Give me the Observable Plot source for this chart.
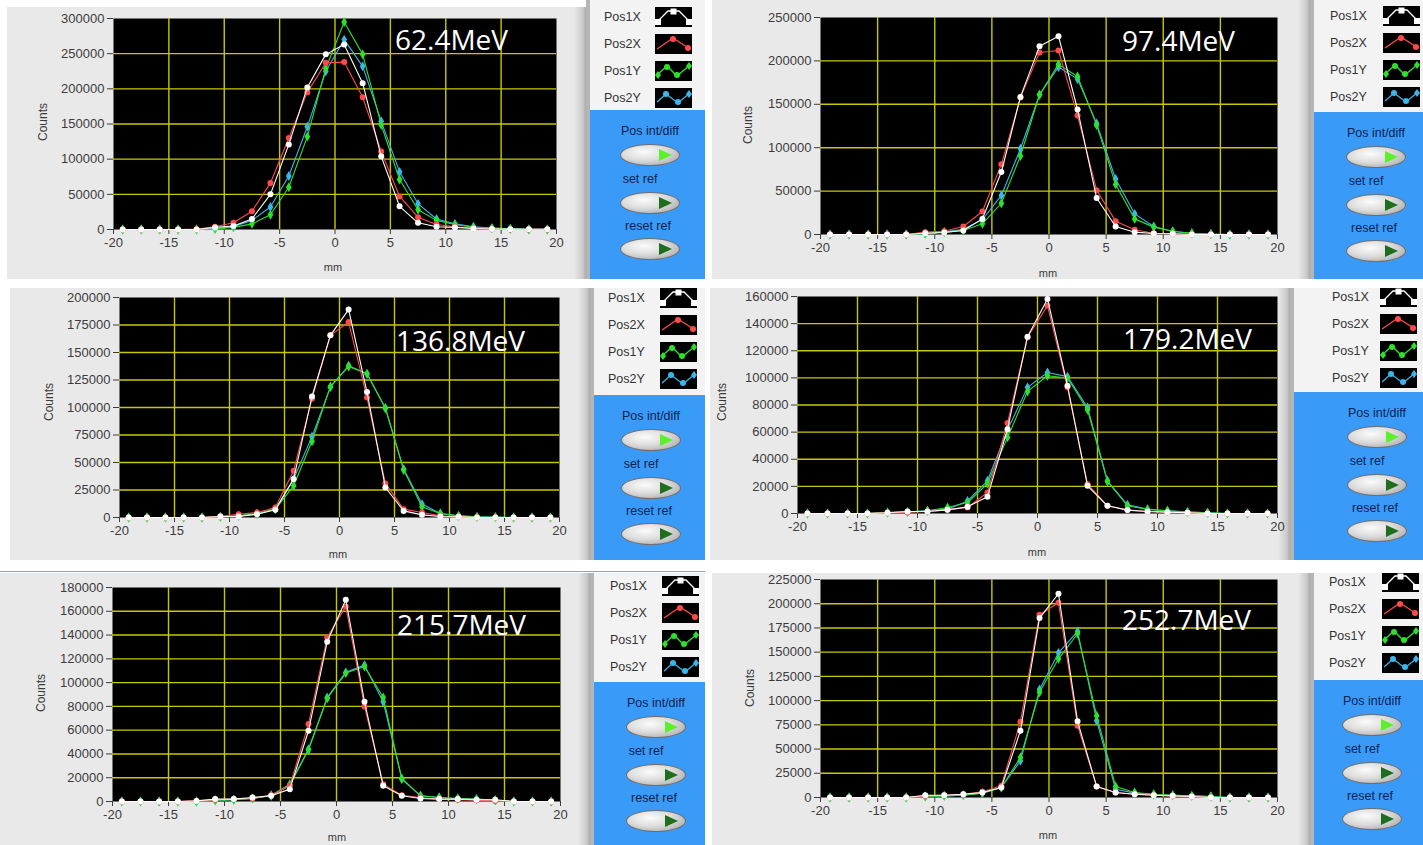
<!DOCTYPE html>
<html>
<head>
<meta charset="utf-8">
<script src="https://cdn.jsdelivr.net/npm/d3@7"></script>
<script src="https://cdn.jsdelivr.net/npm/@observablehq/plot@0.6"></script>
<style>
  html, body { margin: 0; padding: 0; background: #ffffff; }
  body { width: 1423px; height: 845px; position: relative; overflow: hidden; font-family: "Liberation Sans", Arial, sans-serif; }
  .panel { position: absolute; overflow: hidden;
    background: linear-gradient(to right, #e9e9e9 0, #e9e9e9 calc(100% - 12px), #c9c9c9 calc(100% - 3px), #a9a9a9 100%); }
  .panel svg { position: absolute; left: 0; top: 0; }
  .energy { position: absolute; color: #ffffff; font-family: "Open Sans", sans-serif; font-size: 28px; line-height: 1; white-space: nowrap; }
  .counts { position: absolute; font-size: 12px; color: #3a3a3a; transform: translate(-50%, -50%) rotate(-90deg); white-space: nowrap; }
  .mm { position: absolute; font-size: 11px; color: #3a3a3a; transform: translate(-50%, -50%); }
  .legend { position: absolute; overflow: hidden; background: #f3f3f3; border-left: 4px solid #b5b5b5; box-sizing: border-box; }
  .blue { position: absolute; left: 0; right: 0; bottom: 0; background: #3a9af8; }
  .item { position: absolute; font-size: 12.5px; color: #333; transform: translateY(-50%); }
  .swatch { position: absolute; transform: translateY(-50%); }
  .blabel { position: absolute; font-size: 12.5px; color: #0d2350; transform: translate(-50%, -50%); white-space: nowrap; }
  .button { position: absolute; width: 60px; height: 22px; border-radius: 50%; transform: translate(-50%, -50%);
    background: radial-gradient(ellipse at 40% 35%, #fbfbfb 0%, #dcdcdc 45%, #9c9c9c 100%); border: 1px solid #6f6f6f; box-sizing: border-box; }
  .tri { position: absolute; right: 7px; top: 4px; width: 13px; height: 12px; clip-path: polygon(0 0, 100% 50%, 0 100%); }
</style>
</head>
<body>
<script>
// ---------------- data ----------------
const xPositions = [-19.17,-17.5,-15.83,-14.17,-12.5,-10.83,-9.17,-7.5,-5.83,-4.17,-2.5,-0.83,0.83,2.5,4.17,5.83,7.5,9.17,10.83,12.5,14.17,15.83,17.5,19.17];
const xTicks = [-20,-15,-10,-5,0,5,10,15,20];
const seriesNames = ["Pos1X","Pos2X","Pos1Y","Pos2Y"];
const energies = ["62.4MeV","97.4MeV","136.8MeV","179.2MeV","215.7MeV","252.7MeV"];

// 62.4 MeV
const p1_pos1x = [0,0,0,0,0,3000,5000,15000,50000,121000,202000,249000,263000,208000,104000,33000,9500,4000,3000,1500,800,500,500,500];
const p1_pos2x = [0,0,0,0,500,4000,9500,26000,66000,130000,195000,237000,238000,188000,111000,47000,17500,7000,4000,2000,500,0,0,0];
const p1_pos1y = [0,0,0,0,0,1000,3000,8000,21000,60000,132000,229000,295000,249000,149000,71000,28000,13000,7000,3300,2000,1000,0,0];
const p1_pos2y = [0,0,0,0,0,1000,4000,13000,32000,76000,146000,225000,270000,232000,154000,82000,36500,15000,8000,4000,2000,1000,0,0];
const p1_yTicks = [0,50000,100000,150000,200000,250000,300000];

// 97.4 MeV
const p2_pos1x = [0,0,0,0,0,1500,2300,4600,18000,72000,158500,217000,228500,144000,42000,9200,2700,1200,800,0,0,0,0,0];
const p2_pos2x = [0,0,0,0,0,2700,3800,9200,26500,80800,157700,209600,212000,137000,51000,15400,5400,1500,800,0,0,0,0,0];
const p2_pos1y = [0,0,0,0,0,800,2700,4600,12300,36000,90400,161000,196000,182000,126000,57700,18000,8500,3800,1500,500,0,0,0];
const p2_pos2y = [0,0,0,0,0,1200,3000,6100,17000,45000,98800,161000,193000,179000,128000,64000,23800,9200,3500,1500,500,0,0,0];
const p2_yTicks = [0,50000,100000,150000,200000,250000];

// 136.8 MeV
const p3_pos1x = [0,0,0,0,0,900,900,3000,7000,35000,110000,165600,189000,114000,27300,6000,2400,900,600,0,0,0,0,0];
const p3_pos2x = [0,0,0,0,0,1200,3000,4500,9000,42500,108000,165600,177700,109000,31000,7600,4500,1500,600,0,0,0,0,0];
const p3_pos1y = [0,0,0,0,0,600,1500,3600,7600,28900,69300,119000,137300,130600,99300,43100,9700,3600,1500,600,300,0,0,0];
const p3_pos2y = [0,0,0,0,0,600,1500,3000,7600,35000,73500,118500,138000,130600,99600,44000,12200,3600,1500,600,300,0,0,0];
const p3_yTicks = [0,25000,50000,75000,100000,125000,150000,175000,200000];

// 179.2 MeV
const p4_pos1x = [0,0,0,0,500,1500,1500,2700,4900,12300,62200,130400,158200,94200,20400,5700,2500,1500,1000,500,0,0,0,0];
const p4_pos2x = [0,0,0,0,500,1000,1500,2700,4400,15500,66700,130000,153300,93000,21600,5700,2500,1500,1000,500,0,0,0,0];
const p4_pos1y = [0,0,0,0,700,1000,2000,4400,8100,22100,56100,90000,101600,99900,76500,23600,5700,3000,2000,1000,500,0,0,0];
const p4_pos2y = [0,0,0,0,700,1200,2000,3200,9300,24100,61500,93000,104000,100900,78200,24100,6400,3200,2000,1200,500,0,0,0];
const p4_yTicks = [0,20000,40000,60000,80000,100000,120000,140000,160000];

// 215.7 MeV
const p5_pos1x = [0,0,0,0,500,2000,2000,3400,4800,10400,59500,134400,169700,83900,13200,4800,2500,2000,2000,1500,1500,0,0,0];
const p5_pos2x = [0,0,0,0,500,1500,2000,2500,5300,13200,65100,138000,164100,80000,14600,5300,3400,2000,1500,1000,500,0,0,0];
const p5_pos1y = [0,0,0,0,0,1000,1500,2500,4800,13700,43500,86700,108000,113600,87500,19400,4800,3400,2500,2000,1000,0,0,0];
const p5_pos2y = [0,0,0,0,0,1000,1500,2500,5300,14600,44000,87500,108600,114700,83900,18800,4800,3400,2500,2000,1000,0,0,0];
const p5_yTicks = [0,20000,40000,60000,80000,100000,120000,140000,160000,180000];

// 252.7 MeV
const p6_pos1x = [0,0,0,0,0,2400,2400,3400,5200,10300,69000,185200,210300,78600,11400,5200,3400,2400,1700,1000,0,0,0,0];
const p6_pos2x = [0,0,0,0,0,1700,2400,3400,5900,12100,78300,188600,201000,74100,11400,5200,3400,2400,1700,1000,0,0,0,0];
const p6_pos1y = [0,0,0,0,0,1000,1700,2400,4500,10300,41400,108600,143100,169000,84500,11400,5200,3400,2400,1700,1000,0,0,0];
const p6_pos2y = [0,0,0,0,0,1000,1700,2400,4500,10300,37900,111400,149300,171400,79300,8600,4500,3000,2400,1700,1000,0,0,0];
const p6_yTicks = [0,25000,50000,75000,100000,125000,150000,175000,200000,225000];

// ---------------- styling / layout ----------------
const seriesColors = ["#ffffff", "#ff4a4a", "#2ee02e", "#3cb6ea"];
const seriesSymbols = ["circle", "circle", "diamond", "diamond"];
const drawOrder = [3, 2, 1, 0];
const gridColor = "#c8c800";

const panelData = [
  [p1_pos1x, p1_pos2x, p1_pos1y, p1_pos2y],
  [p2_pos1x, p2_pos2x, p2_pos1y, p2_pos2y],
  [p3_pos1x, p3_pos2x, p3_pos1y, p3_pos2y],
  [p4_pos1x, p4_pos2x, p4_pos1y, p4_pos2y],
  [p5_pos1x, p5_pos2x, p5_pos1y, p5_pos2y],
  [p6_pos1x, p6_pos2x, p6_pos1y, p6_pos2y]
];
const panelTicks = [p1_yTicks, p2_yTicks, p3_yTicks, p4_yTicks, p5_yTicks, p6_yTicks];

const layouts = [
  {left:7,   top:7,   width:579, height:272, ml:106, mr:30, mt:11, mb:50, ex:395,  eb:50,  cx:43,  cy:122, mx:333,  my:267,
   lg:{left:586, top:0, width:119, height:279, blue:110, r0:17, tx:18, sx:69, bx:64}},
  {left:712, top:0,   width:598, height:279, ml:108, mr:33, mt:17, mb:45, ex:1122, eb:51,  cx:748, cy:125, mx:1048, my:273,
   lg:{left:1310, top:0, width:113, height:279, blue:112, r0:16, tx:20, sx:73, bx:66}},
  {left:10,  top:288, width:580, height:272, ml:109, mr:31, mt:9,  mb:43, ex:396,  eb:351, cx:49,  cy:402, mx:338,  my:554,
   lg:{left:590, top:288, width:115, height:272, blue:395, r0:298, tx:18, sx:70, bx:61}},
  {left:710, top:288, width:580, height:272, ml:87,  mr:13, mt:8,  mb:47, ex:1123, eb:349, cx:722, cy:402, mx:1037, my:552,
   lg:{left:1290, top:288, width:133, height:272, blue:392, r0:297, tx:42, sx:90, bx:87}},
  {left:0,   top:573, width:590, height:272, ml:112, mr:30, mt:14, mb:44, ex:397,  eb:635, cx:41,  cy:693, mx:337,  my:837,
   lg:{left:590, top:573, width:115, height:272, blue:682, r0:586, tx:20, sx:72, bx:66}},
  {left:712, top:573, width:598, height:272, ml:108, mr:33, mt:6,  mb:48, ex:1122, eb:630, cx:750, cy:688, mx:1048, my:835,
   lg:{left:1310, top:573, width:113, height:272, blue:680, r0:582, tx:19, sx:72, bx:62}}
];

function el(tag, cls, parent, css) {
  const e = document.createElement(tag);
  if (cls) e.className = cls;
  if (css) Object.assign(e.style, css);
  parent.appendChild(e);
  return e;
}

function makePlot(i) {
  const L = layouts[i];
  const values = panelData[i];
  const yTicks = panelTicks[i];
  const yMax = yTicks[yTicks.length - 1];
  const rows = [];
  seriesNames.forEach((s, k) => values[k].forEach((v, j) => rows.push({x: xPositions[j], y: v, s})));
  const innerX = xTicks.filter(t => t > -20 && t < 20);
  const innerY = yTicks.filter(t => t > 0 && t < yMax);
  const marks = [
    Plot.frame({fill: "#000000", stroke: null}),
    Plot.gridX(innerX, {stroke: gridColor, strokeOpacity: 1, strokeWidth: 1.4}),
    Plot.gridY(innerY, {stroke: gridColor, strokeOpacity: 1, strokeWidth: 1.4}),
    Plot.axisX(xTicks, {tickSize: 5, tickPadding: 3, tickFormat: d => String(d), label: null}),
    Plot.axisY(yTicks, {tickSize: 6, tickPadding: 3, tickFormat: d => String(d), label: null})
  ];
  for (const k of drawOrder) {
    const d = rows.filter(r => r.s === seriesNames[k]);
    marks.push(Plot.line(d, {x: "x", y: "y", stroke: seriesColors[k], strokeWidth: 1.1}));
    marks.push(Plot.dot(d, {x: "x", y: "y", fill: seriesColors[k], stroke: null, r: 3, symbol: seriesSymbols[k]}));
  }
  return Plot.plot({
    width: L.width, height: L.height,
    marginLeft: L.ml, marginRight: L.mr, marginTop: L.mt, marginBottom: L.mb,
    style: {background: "transparent", fontFamily: "'Liberation Sans', Arial, sans-serif", fontSize: "13px", color: "#3c3c3c", overflow: "visible"},
    x: {domain: [-20, 20], label: null},
    y: {domain: [0, yMax], label: null},
    marks
  });
}

const swatchShapes = [
  `<polyline points="2,15 13,4 24,4 35,15" fill="none" stroke="#fff" stroke-width="1.3"/><rect x="0" y="12" width="6" height="6" fill="#fff"/><rect x="15.5" y="1.5" width="6" height="6" fill="#fff"/><rect x="31" y="12" width="6" height="6" fill="#fff"/>`,
  `<polyline points="2,15 18,4 35,15" fill="none" stroke="#ff4a4a" stroke-width="1.3"/><circle cx="18" cy="5" r="3" fill="#ff4a4a"/><circle cx="33" cy="14" r="3" fill="#ff4a4a"/>`,
  `<polyline points="2,14 12,5 22,15 35,4" fill="none" stroke="#2ee02e" stroke-width="1.3"/><path d="M3 10l3 4-3 4-3-4z" fill="#2ee02e"/><circle cx="12" cy="6" r="3" fill="#2ee02e"/><circle cx="22" cy="14" r="3" fill="#2ee02e"/><path d="M34 1l3 4-3 4-3-4z" fill="#2ee02e"/>`,
  `<polyline points="2,14 11,6 23,15 35,5" fill="none" stroke="#3cb6ea" stroke-width="1.3"/><circle cx="11" cy="6" r="3" fill="#3cb6ea"/><circle cx="23" cy="14" r="3" fill="#3cb6ea"/><path d="M34 2l3 4-3 4-3-4z" fill="#3cb6ea"/>`
];

function makeLegend(lg) {
  const box = el("div", "legend", document.body, {left: lg.left + "px", top: lg.top + "px", width: lg.width + "px", height: lg.height + "px"});
  el("div", "blue", box, {top: (lg.blue - lg.top) + "px"});
  seriesNames.forEach((s, k) => {
    const y = lg.r0 - lg.top + k * 27;
    const t = el("div", "item", box, {left: (lg.tx - 4) + "px", top: y + "px"});
    t.textContent = s;
    const sw = el("div", "swatch", box, {left: (lg.sx - 4) + "px", top: y + "px", width: "37px", height: "20px"});
    sw.innerHTML = `<svg width="37" height="20" viewBox="0 0 37 20"><rect width="37" height="20" fill="#000"/>${swatchShapes[k]}</svg>`;
  });
  const labels = ["Pos int/diff", "set ref", "reset ref"];
  const labelOff = [21, 69, 116];
  const btnOff = [45, 93, 139];
  const triColors = ["#5cf02a", "#1f6e1f", "#1f6e1f"];
  labels.forEach((lab, k) => {
    const b = el("div", "blabel", box, {left: (lg.bx - 4 - (k === 1 ? 10 : k === 2 ? 2 : 0)) + "px", top: (lg.blue - lg.top + labelOff[k]) + "px"});
    b.textContent = lab;
    const btn = el("div", "button", box, {left: (lg.bx - 4) + "px", top: (lg.blue - lg.top + btnOff[k]) + "px"});
    el("div", "tri", btn, {background: triColors[k]});
  });
}

layouts.forEach((L, i) => {
  const panel = el("div", "panel", document.body, {left: L.left + "px", top: L.top + "px", width: L.width + "px", height: L.height + "px"});
  panel.appendChild(makePlot(i));
  const e = el("div", "energy", panel, {left: (L.ex - L.left) + "px", top: (L.eb - 25 - L.top) + "px"});
  e.textContent = energies[i];
  const c = el("div", "counts", panel, {left: (L.cx - L.left) + "px", top: (L.cy - L.top) + "px"});
  c.textContent = "Counts";
  const m = el("div", "mm", panel, {left: (L.mx - L.left) + "px", top: (L.my - L.top) + "px"});
  m.textContent = "mm";
  makeLegend(L.lg);
});

// thin blue separator line above bottom-left panel
el("div", null, document.body, {position: "absolute", left: "0px", top: "571px", width: "705px", height: "1px", background: "#6aaee8"});
</script>
</body>
</html>
